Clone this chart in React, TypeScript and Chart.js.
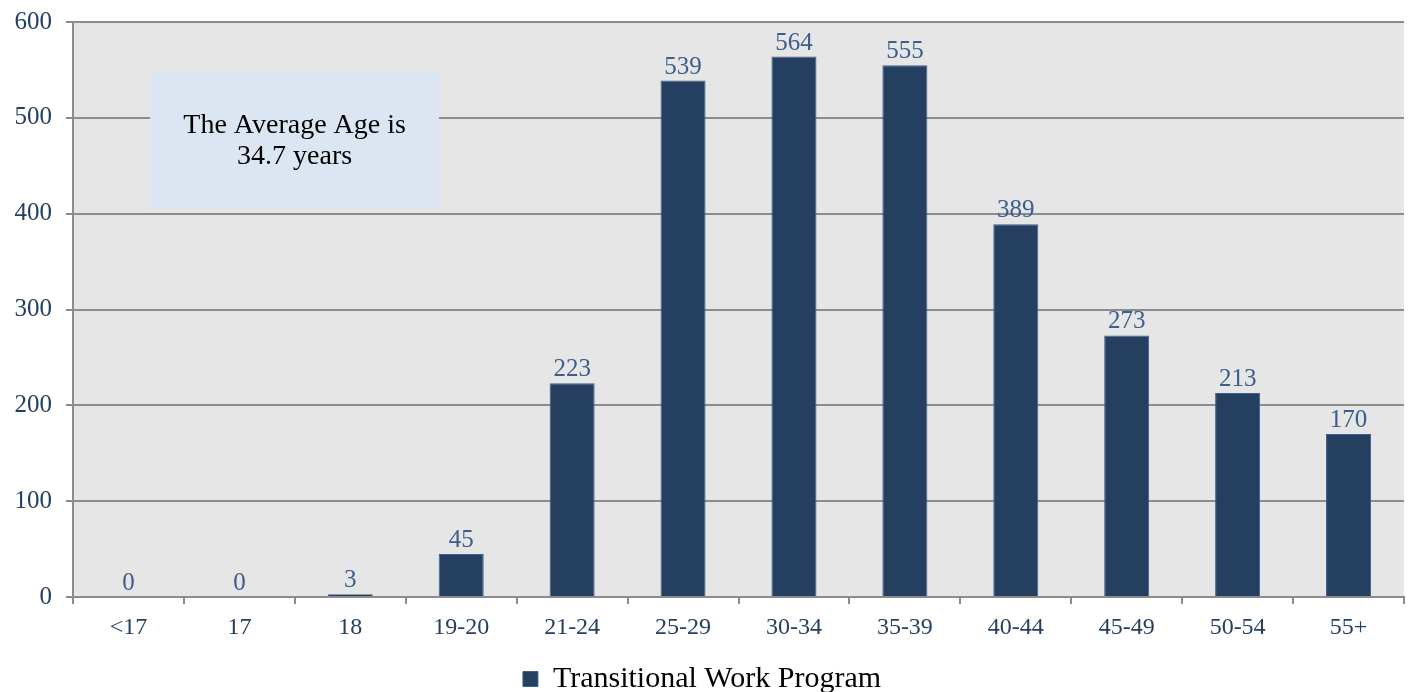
import React, { useEffect, useRef } from "react";
import { Chart, registerables } from "chart.js";

Chart.register(...registerables);

const categories = ["<17", "17", "18", "19-20", "21-24", "25-29", "30-34", "35-39", "40-44", "45-49", "50-54", "55+"];
const values = [0, 0, 3, 45, 223, 539, 564, 555, 389, 273, 213, 170];
const seriesName = "Transitional Work Program";
const yTicks = [0, 100, 200, 300, 400, 500, 600];
const noteLines = ["The Average Age is", "34.7 years"];

const FONT = "'Liberation Serif', 'DejaVu Serif', serif";

const plotBg = {
  id: "plotBg",
  beforeDraw(chart: any) {
    const { ctx, chartArea } = chart;
    ctx.save();
    ctx.fillStyle = "#e6e6e6";
    ctx.fillRect(chartArea.left, chartArea.top, chartArea.right - chartArea.left, chartArea.bottom - chartArea.top);
    ctx.restore();
  },
};

const labelsAndNote = {
  id: "labelsAndNote",
  afterDatasetsDraw(chart: any) {
    const { ctx, chartArea } = chart;
    const meta = chart.getDatasetMeta(0);
    const ds = chart.data.datasets[0];
    ctx.save();
    ctx.font = `25px ${FONT}`;
    ctx.fillStyle = "#3b5e8c";
    ctx.textAlign = "center";
    ctx.textBaseline = "bottom";
    meta.data.forEach((bar: any, i: number) => {
      ctx.fillText(String(ds.data[i]), bar.x, bar.y - 1);
    });
    // note box
    const y = chart.scales.y;
    const w = chartArea.right - chartArea.left;
    const x0 = chartArea.left + w * 0.058;
    const x1 = chartArea.left + w * 0.275;
    const y0 = y.getPixelForValue(548);
    const y1 = y.getPixelForValue(405);
    ctx.fillStyle = "#dce6f2";
    ctx.fillRect(x0, y0, x1 - x0, y1 - y0);
    ctx.fillStyle = "#000000";
    ctx.font = `28px ${FONT}`;
    ctx.textBaseline = "middle";
    const cx = (x0 + x1) / 2;
    const cy = (y0 + y1) / 2;
    ctx.fillText(noteLines[0], cx, cy - 15);
    ctx.fillText(noteLines[1], cx, cy + 16);
    ctx.restore();
  },
};

export default function App() {
  const ref = useRef<HTMLCanvasElement>(null);
  useEffect(() => {
    document.body.style.margin = "0";
    const chart = new Chart(ref.current!, {
      type: "bar",
      data: {
        labels: categories,
        datasets: [
          {
            label: seriesName,
            data: values,
            backgroundColor: "#243f60",
            borderColor: "#3a5f8f",
            borderWidth: 1,
            barPercentage: 0.406,
            categoryPercentage: 1,
          },
        ],
      },
      options: {
        animation: false,
        responsive: false,
        maintainAspectRatio: false,
        layout: { padding: { top: 22, right: 7, bottom: -12, left: 0 } },
        plugins: {
          legend: {
            position: "bottom",
            labels: {
              font: { family: FONT, size: 30 },
              color: "#000000",
              boxWidth: 15,
              boxHeight: 15,
              padding: 1,
            },
          },
          tooltip: { enabled: false },
        },
        scales: {
          x: {
            grid: { drawOnChartArea: false, drawTicks: true, tickLength: 7, color: "#8c8c8c", lineWidth: 2, offset: true },
            border: { color: "#8c8c8c", width: 2 },
            ticks: { font: { family: FONT, size: 24 }, color: "#243f60", padding: 9, maxRotation: 0 },
            afterFit(scale: any) {
              scale.height = 66;
            },
          },
          y: {
            min: 0,
            max: 600,
            afterBuildTicks(scale: any) {
              scale.ticks = yTicks.map((v) => ({ value: v }));
            },
            grid: { color: "#8c8c8c", lineWidth: 2, tickLength: 7 },
            border: { color: "#8c8c8c", width: 2 },
            ticks: { font: { family: FONT, size: 25 }, color: "#243f60", padding: 14 },
            afterFit(scale: any) {
              scale.width = 73;
              scale.paddingTop = 0;
              scale.paddingBottom = 0;
            },
          },
        },
      },
      plugins: [plotBg, labelsAndNote],
    });
    return () => chart.destroy();
  }, []);
  return (
    <div style={{ width: 1411, height: 692 }}>
      <canvas ref={ref} width={1411} height={692} style={{ display: "block" }} />
    </div>
  );
}
